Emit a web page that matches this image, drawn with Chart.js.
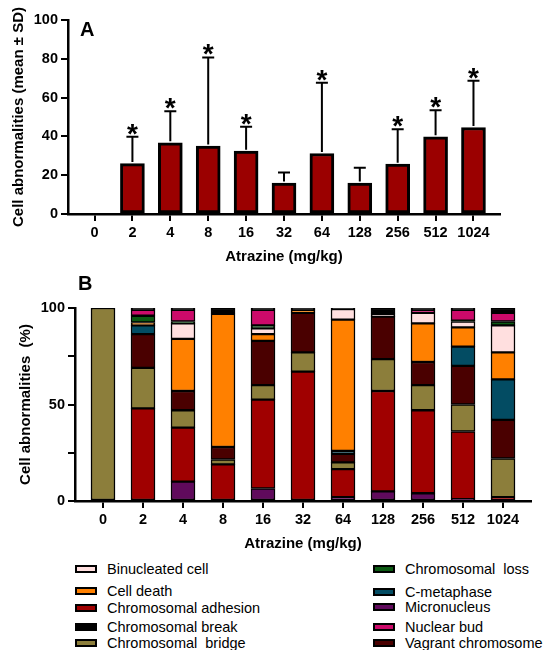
<!DOCTYPE html>
<html>
<head>
<meta charset="utf-8">
<script src="https://cdn.jsdelivr.net/npm/chart.js@4.4.1/dist/chart.umd.min.js"></script>
<style>
  body { margin: 0; background: #fff; width: 551px; height: 650px; overflow: hidden; position: relative; font-family: 'Liberation Sans', Arial, sans-serif; }
  .box { position: absolute; left: 0; width: 551px; }
  #legend div { position: absolute; font-size: 14.5px; white-space: pre; color: #000; line-height: 16px; }
  #legend span { position: absolute; width: 18px; height: 4px; border: 2px solid #000; }
</style>
</head>
<body>
<div class="box" style="top:0;height:268px"><canvas id="chartA"></canvas></div>
<div class="box" style="top:268px;height:287px"><canvas id="chartB"></canvas></div>
<div id="legend"></div>
<script>
// doses on the x axis (both panels)
const doses = ['0', '2', '4', '8', '16', '32', '64', '128', '256', '512', '1024'];

// panel A: mean and upper SD end
const means = [0, 26, 36.7, 35, 32.4, 16, 31.2, 16, 25.7, 39.8, 44.6];
const sdTops = [0, 39.8, 53, 80.7, 45, 21.4, 67.6, 23.8, 43.7, 53.5, 68.7];
const significant = [false, true, true, true, true, false, true, false, true, true, true];

// panel B: share of each abnormality (%), bottom to top of the stack
const micronucleus = [0, 0, 10, 0, 6.5, 0, 2, 5, 4, 1, 0.5];
const adhesion = [0, 48, 28, 19, 46, 67, 14.5, 52, 43, 35, 1.5];
const bridge = [100, 21, 9, 2.5, 7.5, 10, 3.5, 16.5, 13, 14, 20];
const vagrant = [0, 17.5, 10, 6.5, 23, 20.5, 4.5, 22, 12, 20, 20];
const cMetaphase = [0, 4.5, 0, 0, 0, 0, 1.5, 0, 0, 10, 21];
const cellDeath = [0, 1.5, 27, 69, 3.5, 1.5, 68, 0, 20, 10, 14];
const binucleated = [0, 0, 8, 0, 3, 0, 5.5, 1.5, 5.5, 3, 14];
const chromLoss = [0, 3.5, 1, 0, 1.5, 0, 0, 0, 0, 0.5, 2];
const nuclearBud = [0, 3, 6, 0, 8, 0, 0, 0, 1.5, 5.5, 4.5];
const chromBreak = [0, 1, 1, 3, 1, 1, 0.5, 3, 1, 1, 2.5];

const seriesB = [
  { label: 'Micronucleus', data: micronucleus, color: '#600a5c' },
  { label: 'Chromosomal adhesion', data: adhesion, color: '#a00000' },
  { label: 'Chromosomal  bridge', data: bridge, color: '#8c7e3b' },
  { label: 'Vagrant chromosome', data: vagrant, color: '#4a0000' },
  { label: 'C-metaphase', data: cMetaphase, color: '#034c63' },
  { label: 'Cell death', data: cellDeath, color: '#ff8000' },
  { label: 'Binucleated cell', data: binucleated, color: '#ffdfdf' },
  { label: 'Chromosomal  loss', data: chromLoss, color: '#0b5a12' },
  { label: 'Nuclear bud', data: nuclearBud, color: '#cc0a6a' },
  { label: 'Chromosomal break', data: chromBreak, color: '#000000' },
];

// legend columns as in the figure
const legendLeft = ['Binucleated cell', 'Cell death', 'Chromosomal adhesion', 'Chromosomal break', 'Chromosomal  bridge'];
const legendRight = ['Chromosomal  loss', 'C-metaphase', 'Micronucleus', 'Nuclear bud', 'Vagrant chromosome'];
const legendLeftY = [569, 591, 608, 627, 643];
const legendRightY = [569, 592, 607, 627, 643];

const FONT = "'Liberation Sans', Arial, sans-serif";
const tickFont = { family: FONT, size: 14.5, weight: 'bold' };
const titleFont = { family: FONT, size: 15, weight: 'bold' };

function axisX(title) {
  return {
    type: 'linear',
    offset: false,
    min: -0.7,
    max: 10.7,
    afterBuildTicks: (scale) => { scale.ticks = doses.map((d, i) => ({ value: i })); },
    ticks: { callback: (v) => doses[v], color: '#000', font: tickFont, padding: 3, maxRotation: 0, autoSkip: false },
    grid: { display: true, offset: false, drawOnChartArea: false, drawTicks: true, tickLength: 7, color: '#000', lineWidth: 2 },
    border: { display: true, color: '#000', width: 2.5 },
    title: { display: true, text: title, color: '#000', font: titleFont, padding: { top: 2, bottom: 0 } },
  };
}

function axisY(title, step, width) {
  return {
    min: 0,
    max: 100,
    afterFit: (s) => { s.width = width; },
    ticks: { stepSize: step, color: '#000', font: tickFont, padding: 3 },
    grid: { display: true, drawOnChartArea: false, drawTicks: true, tickLength: 7, color: '#000', lineWidth: 2 },
    border: { display: true, color: '#000', width: 2.5 },
    title: { display: true, text: title, color: '#000', font: titleFont, padding: { top: 0, bottom: 4 } },
  };
}

function panelLetter(text, x, y) {
  return {
    id: 'letter' + text,
    afterDraw(chart) {
      const ctx = chart.ctx;
      ctx.save();
      ctx.fillStyle = '#000';
      ctx.font = 'bold 20px ' + FONT;
      ctx.textAlign = 'left';
      ctx.textBaseline = 'middle';
      ctx.fillText(text, x, y);
      ctx.restore();
    },
  };
}

const errorBars = {
  id: 'errorBars',
  afterDatasetsDraw(chart) {
    const ctx = chart.ctx;
    const xs = chart.scales.x;
    const ys = chart.scales.y;
    ctx.save();
    ctx.strokeStyle = '#000';
    ctx.fillStyle = '#000';
    ctx.lineWidth = 2;
    means.forEach((m, i) => {
      if (sdTops[i] <= m) return;
      const x = xs.getPixelForValue(i);
      const y0 = ys.getPixelForValue(m);
      const y1 = ys.getPixelForValue(sdTops[i]);
      ctx.beginPath();
      ctx.moveTo(x, y0 - 1.5);
      ctx.lineTo(x, y1);
      ctx.moveTo(x - 6, y1);
      ctx.lineTo(x + 6, y1);
      ctx.stroke();
      if (significant[i]) {
        ctx.font = 'bold 28px ' + FONT;
        ctx.textAlign = 'center';
        ctx.textBaseline = 'alphabetic';
        ctx.fillText('*', x, y1 + 6);
      }
    });
    ctx.restore();
  },
};

new Chart(document.getElementById('chartA'), {
  type: 'bar',
  data: {
    datasets: [{
      data: means.map((v, i) => ({ x: i, y: v })),
      backgroundColor: '#9b0000',
      borderColor: '#000',
      borderWidth: 3,
      borderSkipped: false,
      barThickness: 24,
    }],
  },
  options: {
    responsive: true,
    maintainAspectRatio: false,
    animation: false,
    layout: { padding: { left: 10, right: 51, top: 20, bottom: 2 } },
    plugins: { legend: { display: false }, tooltip: { enabled: false } },
    scales: {
      x: Object.assign(axisX('Atrazine (mg/kg)'), { afterFit: (s) => { s.height = 52; } }),
      y: axisY('Cell abnormalities (mean ± SD)', 20, 58),
    },
  },
  plugins: [errorBars, panelLetter('A', 80, 30)],
});

new Chart(document.getElementById('chartB'), {
  type: 'bar',
  data: {
    datasets: seriesB.map((s) => ({
      label: s.label,
      data: s.data.map((v, i) => ({ x: i, y: v === 0 ? null : v })),
      backgroundColor: s.color,
      borderColor: '#000',
      borderWidth: 1.5,
      borderSkipped: false,
      barThickness: 24,
    })),
  },
  options: {
    responsive: true,
    maintainAspectRatio: false,
    animation: false,
    layout: { padding: { left: 17, right: 20, top: 40, bottom: 2 } },
    plugins: { legend: { display: false }, tooltip: { enabled: false } },
    scales: {
      x: Object.assign(axisX('Atrazine (mg/kg)'), { stacked: true, afterFit: (s) => { s.height = 52; } }),
      y: Object.assign(axisY('Cell abnormalities  (%)', 25, 58), { stacked: true }),
    },
  },
  plugins: [panelLetter('B', 78, 16)],
});
Chart.getChart('chartB').options.scales.y.ticks.callback = (v) => (v % 50 === 0 ? v : '');
Chart.getChart('chartB').update();

// legend
const legend = document.getElementById('legend');
function addLegend(names, ys, swatchX, textX) {
  names.forEach((name, k) => {
    const s = seriesB.find((d) => d.label === name);
    const sw = document.createElement('span');
    sw.style.left = swatchX + 'px';
    sw.style.top = (ys[k] - 4) + 'px';
    sw.style.background = s.color;
    legend.appendChild(sw);
    const t = document.createElement('div');
    t.textContent = name;
    t.style.left = textX + 'px';
    t.style.top = (ys[k] - 8) + 'px';
    legend.appendChild(t);
  });
}
addLegend(legendLeft, legendLeftY, 75, 107);
addLegend(legendRight, legendRightY, 373, 405);
</script>
</body>
</html>
